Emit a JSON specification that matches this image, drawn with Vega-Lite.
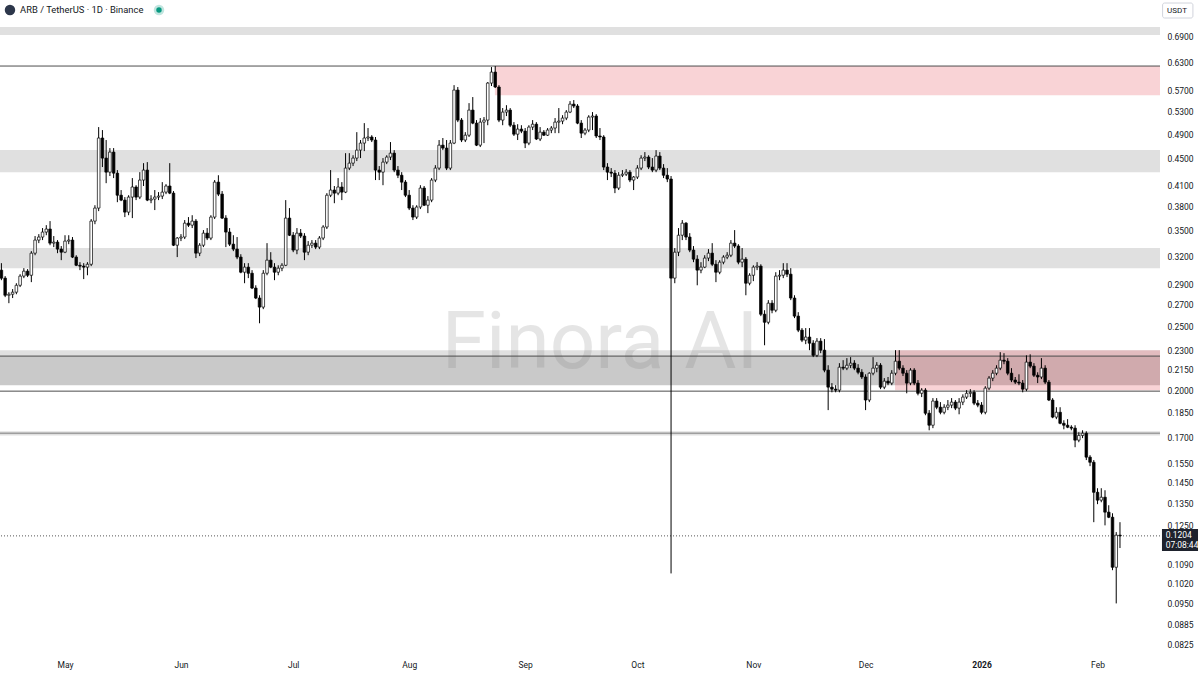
{
"$schema":"https://vega.github.io/schema/vega-lite/v6.json",
"width":1160,"height":655,
"autosize":{"type":"none"},
"padding":{"left":0,"top":0,"right":40,"bottom":20},
"background":"#ffffff",
"config":{"view":{"stroke":null},"font":"Roboto"},
"datasets":{
"candles":[
{"d":"2025-04-14","o":0.3046,"h":0.3121,"l":0.2941,"c":0.2962},
{"d":"2025-04-15","o":0.2962,"h":0.2983,"l":0.2772,"c":0.2790},
{"d":"2025-04-16","o":0.2790,"h":0.2820,"l":0.2714,"c":0.2800},
{"d":"2025-04-17","o":0.2800,"h":0.2851,"l":0.2763,"c":0.2820},
{"d":"2025-04-18","o":0.2820,"h":0.2910,"l":0.2800,"c":0.2889},
{"d":"2025-04-19","o":0.2889,"h":0.3003,"l":0.2871,"c":0.2983},
{"d":"2025-04-20","o":0.2983,"h":0.3067,"l":0.2962,"c":0.3035},
{"d":"2025-04-21","o":0.3035,"h":0.3057,"l":0.2973,"c":0.2992},
{"d":"2025-04-22","o":0.2992,"h":0.3255,"l":0.2921,"c":0.3232},
{"d":"2025-04-23","o":0.3232,"h":0.3431,"l":0.3209,"c":0.3383},
{"d":"2025-04-24","o":0.3383,"h":0.3454,"l":0.3347,"c":0.3419},
{"d":"2025-04-25","o":0.3419,"h":0.3528,"l":0.3383,"c":0.3479},
{"d":"2025-04-26","o":0.3479,"h":0.3564,"l":0.3441,"c":0.3516},
{"d":"2025-04-27","o":0.3516,"h":0.3615,"l":0.3323,"c":0.3347},
{"d":"2025-04-28","o":0.3347,"h":0.3431,"l":0.3301,"c":0.3359},
{"d":"2025-04-29","o":0.3359,"h":0.3383,"l":0.3232,"c":0.3278},
{"d":"2025-04-30","o":0.3278,"h":0.3313,"l":0.3154,"c":0.3243},
{"d":"2025-05-01","o":0.3243,"h":0.3441,"l":0.3232,"c":0.3371},
{"d":"2025-05-02","o":0.3371,"h":0.3441,"l":0.3335,"c":0.3383},
{"d":"2025-05-03","o":0.3383,"h":0.3419,"l":0.3177,"c":0.3188},
{"d":"2025-05-04","o":0.3188,"h":0.3209,"l":0.3089,"c":0.3098},
{"d":"2025-05-05","o":0.3098,"h":0.3132,"l":0.3046,"c":0.3089},
{"d":"2025-05-06","o":0.3089,"h":0.3121,"l":0.2952,"c":0.3078},
{"d":"2025-05-07","o":0.3078,"h":0.3132,"l":0.2992,"c":0.3109},
{"d":"2025-05-08","o":0.3109,"h":0.3641,"l":0.3089,"c":0.3615},
{"d":"2025-05-09","o":0.3615,"h":0.3821,"l":0.3576,"c":0.3783},
{"d":"2025-05-10","o":0.3783,"h":0.5020,"l":0.3743,"c":0.4832},
{"d":"2025-05-11","o":0.4832,"h":0.4968,"l":0.4366,"c":0.4505},
{"d":"2025-05-12","o":0.4505,"h":0.4798,"l":0.4127,"c":0.4289},
{"d":"2025-05-13","o":0.4289,"h":0.4665,"l":0.4231,"c":0.4600},
{"d":"2025-05-14","o":0.4600,"h":0.4665,"l":0.4201,"c":0.4274},
{"d":"2025-05-15","o":0.4274,"h":0.4320,"l":0.3862,"c":0.3957},
{"d":"2025-05-16","o":0.3957,"h":0.4029,"l":0.3876,"c":0.3890},
{"d":"2025-05-17","o":0.3890,"h":0.3931,"l":0.3666,"c":0.3730},
{"d":"2025-05-18","o":0.3730,"h":0.3957,"l":0.3690,"c":0.3931},
{"d":"2025-05-19","o":0.3931,"h":0.4201,"l":0.3653,"c":0.4072},
{"d":"2025-05-20","o":0.4072,"h":0.4098,"l":0.3890,"c":0.3931},
{"d":"2025-05-21","o":0.3931,"h":0.4289,"l":0.3904,"c":0.4172},
{"d":"2025-05-22","o":0.4172,"h":0.4426,"l":0.4086,"c":0.4320},
{"d":"2025-05-23","o":0.4320,"h":0.4442,"l":0.3876,"c":0.3890},
{"d":"2025-05-24","o":0.3890,"h":0.3957,"l":0.3848,"c":0.3904},
{"d":"2025-05-25","o":0.3904,"h":0.4029,"l":0.3757,"c":0.3931},
{"d":"2025-05-26","o":0.3931,"h":0.4000,"l":0.3890,"c":0.3945},
{"d":"2025-05-27","o":0.3945,"h":0.4142,"l":0.3904,"c":0.4000},
{"d":"2025-05-28","o":0.4000,"h":0.4113,"l":0.3972,"c":0.4086},
{"d":"2025-05-29","o":0.4086,"h":0.4426,"l":0.3972,"c":0.3986},
{"d":"2025-05-30","o":0.3986,"h":0.4015,"l":0.3313,"c":0.3323},
{"d":"2025-05-31","o":0.3323,"h":0.3419,"l":0.3188,"c":0.3407},
{"d":"2025-06-01","o":0.3407,"h":0.3454,"l":0.3371,"c":0.3419},
{"d":"2025-06-02","o":0.3419,"h":0.3628,"l":0.3395,"c":0.3589},
{"d":"2025-06-03","o":0.3589,"h":0.3666,"l":0.3541,"c":0.3564},
{"d":"2025-06-04","o":0.3564,"h":0.3690,"l":0.3528,"c":0.3615},
{"d":"2025-06-05","o":0.3615,"h":0.3641,"l":0.3177,"c":0.3232},
{"d":"2025-06-06","o":0.3232,"h":0.3347,"l":0.3199,"c":0.3323},
{"d":"2025-06-07","o":0.3323,"h":0.3503,"l":0.3301,"c":0.3466},
{"d":"2025-06-08","o":0.3466,"h":0.3528,"l":0.3383,"c":0.3407},
{"d":"2025-06-09","o":0.3407,"h":0.3690,"l":0.3383,"c":0.3666},
{"d":"2025-06-10","o":0.3666,"h":0.4172,"l":0.3641,"c":0.4142},
{"d":"2025-06-11","o":0.4142,"h":0.4243,"l":0.3945,"c":0.3972},
{"d":"2025-06-12","o":0.3972,"h":0.4015,"l":0.3641,"c":0.3653},
{"d":"2025-06-13","o":0.3653,"h":0.3690,"l":0.3301,"c":0.3479},
{"d":"2025-06-14","o":0.3479,"h":0.3528,"l":0.3313,"c":0.3335},
{"d":"2025-06-15","o":0.3335,"h":0.3441,"l":0.3255,"c":0.3278},
{"d":"2025-06-16","o":0.3278,"h":0.3419,"l":0.3165,"c":0.3188},
{"d":"2025-06-17","o":0.3188,"h":0.3220,"l":0.3013,"c":0.3024},
{"d":"2025-06-18","o":0.3024,"h":0.3121,"l":0.2910,"c":0.3078},
{"d":"2025-06-19","o":0.3078,"h":0.3121,"l":0.2962,"c":0.3013},
{"d":"2025-06-20","o":0.3013,"h":0.3046,"l":0.2851,"c":0.2861},
{"d":"2025-06-21","o":0.2861,"h":0.2889,"l":0.2753,"c":0.2763},
{"d":"2025-06-22","o":0.2763,"h":0.2790,"l":0.2530,"c":0.2677},
{"d":"2025-06-23","o":0.2677,"h":0.3046,"l":0.2658,"c":0.3013},
{"d":"2025-06-24","o":0.3013,"h":0.3347,"l":0.2992,"c":0.3154},
{"d":"2025-06-25","o":0.3154,"h":0.3243,"l":0.3067,"c":0.3078},
{"d":"2025-06-26","o":0.3078,"h":0.3121,"l":0.2941,"c":0.3024},
{"d":"2025-06-27","o":0.3024,"h":0.3098,"l":0.2992,"c":0.3067},
{"d":"2025-06-28","o":0.3067,"h":0.3121,"l":0.3035,"c":0.3098},
{"d":"2025-06-29","o":0.3098,"h":0.3890,"l":0.3089,"c":0.3653},
{"d":"2025-06-30","o":0.3653,"h":0.3783,"l":0.3431,"c":0.3441},
{"d":"2025-07-01","o":0.3441,"h":0.3479,"l":0.3243,"c":0.3267},
{"d":"2025-07-02","o":0.3267,"h":0.3528,"l":0.3220,"c":0.3466},
{"d":"2025-07-03","o":0.3466,"h":0.3516,"l":0.3407,"c":0.3431},
{"d":"2025-07-04","o":0.3431,"h":0.3466,"l":0.3154,"c":0.3243},
{"d":"2025-07-05","o":0.3243,"h":0.3371,"l":0.3209,"c":0.3323},
{"d":"2025-07-06","o":0.3323,"h":0.3383,"l":0.3290,"c":0.3347},
{"d":"2025-07-07","o":0.3347,"h":0.3383,"l":0.3278,"c":0.3301},
{"d":"2025-07-08","o":0.3301,"h":0.3431,"l":0.3278,"c":0.3407},
{"d":"2025-07-09","o":0.3407,"h":0.3564,"l":0.3383,"c":0.3541},
{"d":"2025-07-10","o":0.3541,"h":0.3986,"l":0.3516,"c":0.3957},
{"d":"2025-07-11","o":0.3957,"h":0.4320,"l":0.3931,"c":0.4029},
{"d":"2025-07-12","o":0.4029,"h":0.4086,"l":0.3848,"c":0.3986},
{"d":"2025-07-13","o":0.3986,"h":0.4201,"l":0.3957,"c":0.4072},
{"d":"2025-07-14","o":0.4072,"h":0.4142,"l":0.3890,"c":0.4000},
{"d":"2025-07-15","o":0.4000,"h":0.4583,"l":0.3986,"c":0.4350},
{"d":"2025-07-16","o":0.4350,"h":0.4583,"l":0.4320,"c":0.4426},
{"d":"2025-07-17","o":0.4426,"h":0.4550,"l":0.4381,"c":0.4505},
{"d":"2025-07-18","o":0.4505,"h":0.4932,"l":0.4458,"c":0.4632},
{"d":"2025-07-19","o":0.4632,"h":0.4798,"l":0.4505,"c":0.4747},
{"d":"2025-07-20","o":0.4747,"h":0.5090,"l":0.4616,"c":0.4832},
{"d":"2025-07-21","o":0.4832,"h":0.5003,"l":0.4781,"c":0.4849},
{"d":"2025-07-22","o":0.4849,"h":0.4880,"l":0.4764,"c":0.4798},
{"d":"2025-07-23","o":0.4798,"h":0.4849,"l":0.4172,"c":0.4320},
{"d":"2025-07-24","o":0.4320,"h":0.4381,"l":0.4172,"c":0.4289},
{"d":"2025-07-25","o":0.4289,"h":0.4505,"l":0.4098,"c":0.4442},
{"d":"2025-07-26","o":0.4442,"h":0.4550,"l":0.4411,"c":0.4521},
{"d":"2025-07-27","o":0.4521,"h":0.4764,"l":0.4474,"c":0.4583},
{"d":"2025-07-28","o":0.4583,"h":0.4632,"l":0.4289,"c":0.4320},
{"d":"2025-07-29","o":0.4320,"h":0.4381,"l":0.4201,"c":0.4243},
{"d":"2025-07-30","o":0.4243,"h":0.4289,"l":0.4029,"c":0.4142},
{"d":"2025-07-31","o":0.4142,"h":0.4172,"l":0.3931,"c":0.3957},
{"d":"2025-08-01","o":0.3957,"h":0.4029,"l":0.3757,"c":0.3783},
{"d":"2025-08-02","o":0.3783,"h":0.3821,"l":0.3628,"c":0.3666},
{"d":"2025-08-03","o":0.3666,"h":0.3821,"l":0.3641,"c":0.3797},
{"d":"2025-08-04","o":0.3797,"h":0.4098,"l":0.3770,"c":0.4057},
{"d":"2025-08-05","o":0.4057,"h":0.4086,"l":0.3810,"c":0.3821},
{"d":"2025-08-06","o":0.3821,"h":0.3945,"l":0.3717,"c":0.3890},
{"d":"2025-08-07","o":0.3890,"h":0.4201,"l":0.3862,"c":0.4172},
{"d":"2025-08-08","o":0.4172,"h":0.4395,"l":0.4142,"c":0.4350},
{"d":"2025-08-09","o":0.4350,"h":0.4798,"l":0.4320,"c":0.4713},
{"d":"2025-08-10","o":0.4713,"h":0.4832,"l":0.4632,"c":0.4665},
{"d":"2025-08-11","o":0.4665,"h":0.4798,"l":0.4320,"c":0.4350},
{"d":"2025-08-12","o":0.4350,"h":0.4798,"l":0.4320,"c":0.4747},
{"d":"2025-08-13","o":0.4747,"h":0.5812,"l":0.4730,"c":0.5713},
{"d":"2025-08-14","o":0.5713,"h":0.5774,"l":0.5108,"c":0.5144},
{"d":"2025-08-15","o":0.5144,"h":0.5181,"l":0.4764,"c":0.4798},
{"d":"2025-08-16","o":0.4798,"h":0.4932,"l":0.4764,"c":0.4880},
{"d":"2025-08-17","o":0.4880,"h":0.5458,"l":0.4849,"c":0.5327},
{"d":"2025-08-18","o":0.5327,"h":0.5575,"l":0.5071,"c":0.5090},
{"d":"2025-08-19","o":0.5090,"h":0.5144,"l":0.4698,"c":0.4713},
{"d":"2025-08-20","o":0.4713,"h":0.5181,"l":0.4682,"c":0.5108},
{"d":"2025-08-21","o":0.5108,"h":0.5199,"l":0.4747,"c":0.5144},
{"d":"2025-08-22","o":0.5144,"h":0.5875,"l":0.5053,"c":0.5854},
{"d":"2025-08-23","o":0.5854,"h":0.6191,"l":0.5794,"c":0.6083},
{"d":"2025-08-24","o":0.6083,"h":0.6213,"l":0.5754,"c":0.5774},
{"d":"2025-08-25","o":0.5774,"h":0.5812,"l":0.5108,"c":0.5144},
{"d":"2025-08-26","o":0.5144,"h":0.5365,"l":0.5053,"c":0.5290},
{"d":"2025-08-27","o":0.5290,"h":0.5419,"l":0.5217,"c":0.5327},
{"d":"2025-08-28","o":0.5327,"h":0.5365,"l":0.5020,"c":0.5053},
{"d":"2025-08-29","o":0.5053,"h":0.5108,"l":0.4866,"c":0.4897},
{"d":"2025-08-30","o":0.4897,"h":0.5071,"l":0.4798,"c":0.4985},
{"d":"2025-08-31","o":0.4985,"h":0.5053,"l":0.4915,"c":0.4950},
{"d":"2025-09-01","o":0.4950,"h":0.5003,"l":0.4665,"c":0.4747},
{"d":"2025-09-02","o":0.4747,"h":0.5053,"l":0.4713,"c":0.5020},
{"d":"2025-09-03","o":0.5020,"h":0.5144,"l":0.4968,"c":0.5071},
{"d":"2025-09-04","o":0.5071,"h":0.5108,"l":0.4798,"c":0.4815},
{"d":"2025-09-05","o":0.4815,"h":0.5020,"l":0.4781,"c":0.4932},
{"d":"2025-09-06","o":0.4932,"h":0.4968,"l":0.4866,"c":0.4880},
{"d":"2025-09-07","o":0.4880,"h":0.5003,"l":0.4866,"c":0.4968},
{"d":"2025-09-08","o":0.4968,"h":0.5038,"l":0.4915,"c":0.5003},
{"d":"2025-09-09","o":0.5003,"h":0.5181,"l":0.4915,"c":0.5108},
{"d":"2025-09-10","o":0.5108,"h":0.5365,"l":0.4915,"c":0.5126},
{"d":"2025-09-11","o":0.5126,"h":0.5233,"l":0.5071,"c":0.5181},
{"d":"2025-09-12","o":0.5181,"h":0.5327,"l":0.5144,"c":0.5290},
{"d":"2025-09-13","o":0.5290,"h":0.5497,"l":0.5271,"c":0.5439},
{"d":"2025-09-14","o":0.5439,"h":0.5517,"l":0.5365,"c":0.5403},
{"d":"2025-09-15","o":0.5403,"h":0.5439,"l":0.5071,"c":0.5090},
{"d":"2025-09-16","o":0.5090,"h":0.5144,"l":0.4832,"c":0.4915},
{"d":"2025-09-17","o":0.4915,"h":0.5003,"l":0.4880,"c":0.4968},
{"d":"2025-09-18","o":0.4968,"h":0.5233,"l":0.4932,"c":0.5199},
{"d":"2025-09-19","o":0.5199,"h":0.5290,"l":0.4968,"c":0.5217},
{"d":"2025-09-20","o":0.5217,"h":0.5252,"l":0.4832,"c":0.4866},
{"d":"2025-09-21","o":0.4866,"h":0.5003,"l":0.4798,"c":0.4849},
{"d":"2025-09-22","o":0.4849,"h":0.4880,"l":0.4320,"c":0.4366},
{"d":"2025-09-23","o":0.4366,"h":0.4426,"l":0.4172,"c":0.4289},
{"d":"2025-09-24","o":0.4289,"h":0.4350,"l":0.4216,"c":0.4274},
{"d":"2025-09-25","o":0.4274,"h":0.4320,"l":0.3986,"c":0.4057},
{"d":"2025-09-26","o":0.4057,"h":0.4289,"l":0.4029,"c":0.4243},
{"d":"2025-09-27","o":0.4243,"h":0.4320,"l":0.4216,"c":0.4259},
{"d":"2025-09-28","o":0.4259,"h":0.4335,"l":0.4231,"c":0.4289},
{"d":"2025-09-29","o":0.4289,"h":0.4320,"l":0.4142,"c":0.4172},
{"d":"2025-09-30","o":0.4172,"h":0.4231,"l":0.4029,"c":0.4216},
{"d":"2025-10-01","o":0.4216,"h":0.4395,"l":0.4187,"c":0.4350},
{"d":"2025-10-02","o":0.4350,"h":0.4550,"l":0.4320,"c":0.4505},
{"d":"2025-10-03","o":0.4505,"h":0.4600,"l":0.4458,"c":0.4521},
{"d":"2025-10-04","o":0.4521,"h":0.4550,"l":0.4335,"c":0.4366},
{"d":"2025-10-05","o":0.4366,"h":0.4505,"l":0.4289,"c":0.4320},
{"d":"2025-10-06","o":0.4320,"h":0.4632,"l":0.4289,"c":0.4537},
{"d":"2025-10-07","o":0.4537,"h":0.4600,"l":0.4320,"c":0.4350},
{"d":"2025-10-08","o":0.4350,"h":0.4411,"l":0.4201,"c":0.4243},
{"d":"2025-10-09","o":0.4243,"h":0.4350,"l":0.4142,"c":0.4187},
{"d":"2025-10-10","o":0.4187,"h":0.4231,"l":0.1056,"c":0.2962},
{"d":"2025-10-11","o":0.2962,"h":0.3290,"l":0.2910,"c":0.3243},
{"d":"2025-10-12","o":0.3243,"h":0.3528,"l":0.3199,"c":0.3441},
{"d":"2025-10-13","o":0.3441,"h":0.3628,"l":0.3383,"c":0.3589},
{"d":"2025-10-14","o":0.3589,"h":0.3602,"l":0.3383,"c":0.3419},
{"d":"2025-10-15","o":0.3419,"h":0.3466,"l":0.3243,"c":0.3267},
{"d":"2025-10-16","o":0.3267,"h":0.3313,"l":0.3132,"c":0.3165},
{"d":"2025-10-17","o":0.3165,"h":0.3209,"l":0.2889,"c":0.3046},
{"d":"2025-10-18","o":0.3046,"h":0.3132,"l":0.3013,"c":0.3078},
{"d":"2025-10-19","o":0.3078,"h":0.3209,"l":0.3067,"c":0.3177},
{"d":"2025-10-20","o":0.3177,"h":0.3278,"l":0.3143,"c":0.3232},
{"d":"2025-10-21","o":0.3232,"h":0.3347,"l":0.3089,"c":0.3109},
{"d":"2025-10-22","o":0.3109,"h":0.3154,"l":0.2921,"c":0.3024},
{"d":"2025-10-23","o":0.3024,"h":0.3154,"l":0.3003,"c":0.3132},
{"d":"2025-10-24","o":0.3132,"h":0.3209,"l":0.3109,"c":0.3188},
{"d":"2025-10-25","o":0.3188,"h":0.3243,"l":0.3165,"c":0.3209},
{"d":"2025-10-26","o":0.3209,"h":0.3383,"l":0.3188,"c":0.3347},
{"d":"2025-10-27","o":0.3347,"h":0.3503,"l":0.3290,"c":0.3313},
{"d":"2025-10-28","o":0.3313,"h":0.3335,"l":0.3109,"c":0.3132},
{"d":"2025-10-29","o":0.3132,"h":0.3290,"l":0.3078,"c":0.3165},
{"d":"2025-10-30","o":0.3165,"h":0.3188,"l":0.2790,"c":0.2910},
{"d":"2025-10-31","o":0.2910,"h":0.3013,"l":0.2889,"c":0.2992},
{"d":"2025-11-01","o":0.2992,"h":0.3098,"l":0.2931,"c":0.3078},
{"d":"2025-11-02","o":0.3078,"h":0.3132,"l":0.3046,"c":0.3089},
{"d":"2025-11-03","o":0.3089,"h":0.3109,"l":0.2594,"c":0.2611},
{"d":"2025-11-04","o":0.2611,"h":0.2648,"l":0.2343,"c":0.2539},
{"d":"2025-11-05","o":0.2539,"h":0.2743,"l":0.2521,"c":0.2714},
{"d":"2025-11-06","o":0.2714,"h":0.2743,"l":0.2620,"c":0.2648},
{"d":"2025-11-07","o":0.2648,"h":0.3024,"l":0.2630,"c":0.2983},
{"d":"2025-11-08","o":0.2983,"h":0.3046,"l":0.2941,"c":0.2992},
{"d":"2025-11-09","o":0.2992,"h":0.3121,"l":0.2962,"c":0.3046},
{"d":"2025-11-10","o":0.3046,"h":0.3121,"l":0.2973,"c":0.3003},
{"d":"2025-11-11","o":0.3003,"h":0.3067,"l":0.2743,"c":0.2763},
{"d":"2025-11-12","o":0.2763,"h":0.2790,"l":0.2576,"c":0.2594},
{"d":"2025-11-13","o":0.2594,"h":0.2630,"l":0.2453,"c":0.2470},
{"d":"2025-11-14","o":0.2470,"h":0.2488,"l":0.2369,"c":0.2385},
{"d":"2025-11-15","o":0.2385,"h":0.2488,"l":0.2352,"c":0.2411},
{"d":"2025-11-16","o":0.2411,"h":0.2488,"l":0.2303,"c":0.2360},
{"d":"2025-11-17","o":0.2360,"h":0.2385,"l":0.2248,"c":0.2262},
{"d":"2025-11-18","o":0.2262,"h":0.2402,"l":0.2248,"c":0.2377},
{"d":"2025-11-19","o":0.2377,"h":0.2402,"l":0.2279,"c":0.2303},
{"d":"2025-11-20","o":0.2303,"h":0.2394,"l":0.2132,"c":0.2148},
{"d":"2025-11-21","o":0.2148,"h":0.2185,"l":0.1868,"c":0.2024},
{"d":"2025-11-22","o":0.2024,"h":0.2053,"l":0.1988,"c":0.2010},
{"d":"2025-11-23","o":0.2010,"h":0.2038,"l":0.1988,"c":0.2003},
{"d":"2025-11-24","o":0.2003,"h":0.2201,"l":0.1988,"c":0.2170},
{"d":"2025-11-25","o":0.2170,"h":0.2224,"l":0.2148,"c":0.2163},
{"d":"2025-11-26","o":0.2163,"h":0.2240,"l":0.2148,"c":0.2185},
{"d":"2025-11-27","o":0.2185,"h":0.2248,"l":0.2163,"c":0.2201},
{"d":"2025-11-28","o":0.2201,"h":0.2224,"l":0.2148,"c":0.2163},
{"d":"2025-11-29","o":0.2163,"h":0.2193,"l":0.2117,"c":0.2132},
{"d":"2025-11-30","o":0.2132,"h":0.2155,"l":0.2082,"c":0.2097},
{"d":"2025-12-01","o":0.2097,"h":0.2117,"l":0.1868,"c":0.1935},
{"d":"2025-12-02","o":0.1935,"h":0.2132,"l":0.1921,"c":0.2125},
{"d":"2025-12-03","o":0.2125,"h":0.2248,"l":0.2110,"c":0.2163},
{"d":"2025-12-04","o":0.2163,"h":0.2209,"l":0.2132,"c":0.2185},
{"d":"2025-12-05","o":0.2185,"h":0.2201,"l":0.2010,"c":0.2024},
{"d":"2025-12-06","o":0.2024,"h":0.2089,"l":0.2010,"c":0.2067},
{"d":"2025-12-07","o":0.2067,"h":0.2097,"l":0.2038,"c":0.2053},
{"d":"2025-12-08","o":0.2053,"h":0.2148,"l":0.2038,"c":0.2125},
{"d":"2025-12-09","o":0.2125,"h":0.2303,"l":0.2110,"c":0.2216},
{"d":"2025-12-10","o":0.2216,"h":0.2303,"l":0.2148,"c":0.2163},
{"d":"2025-12-11","o":0.2163,"h":0.2185,"l":0.2104,"c":0.2125},
{"d":"2025-12-12","o":0.2125,"h":0.2148,"l":0.1981,"c":0.2053},
{"d":"2025-12-13","o":0.2053,"h":0.2163,"l":0.2038,"c":0.2148},
{"d":"2025-12-14","o":0.2148,"h":0.2163,"l":0.2038,"c":0.2053},
{"d":"2025-12-15","o":0.2053,"h":0.2075,"l":0.1967,"c":0.1981},
{"d":"2025-12-16","o":0.1981,"h":0.2017,"l":0.1955,"c":0.2003},
{"d":"2025-12-17","o":0.2003,"h":0.2017,"l":0.1835,"c":0.1848},
{"d":"2025-12-18","o":0.1848,"h":0.1868,"l":0.1741,"c":0.1772},
{"d":"2025-12-19","o":0.1772,"h":0.1948,"l":0.1754,"c":0.1928},
{"d":"2025-12-20","o":0.1928,"h":0.1948,"l":0.1874,"c":0.1887},
{"d":"2025-12-21","o":0.1887,"h":0.1921,"l":0.1841,"c":0.1854},
{"d":"2025-12-22","o":0.1854,"h":0.1907,"l":0.1841,"c":0.1887},
{"d":"2025-12-23","o":0.1887,"h":0.1935,"l":0.1868,"c":0.1901},
{"d":"2025-12-24","o":0.1901,"h":0.1948,"l":0.1881,"c":0.1921},
{"d":"2025-12-25","o":0.1921,"h":0.1935,"l":0.1868,"c":0.1881},
{"d":"2025-12-26","o":0.1881,"h":0.1948,"l":0.1841,"c":0.1921},
{"d":"2025-12-27","o":0.1921,"h":0.1974,"l":0.1901,"c":0.1955},
{"d":"2025-12-28","o":0.1955,"h":0.2003,"l":0.1942,"c":0.1981},
{"d":"2025-12-29","o":0.1981,"h":0.2010,"l":0.1955,"c":0.1988},
{"d":"2025-12-30","o":0.1988,"h":0.2003,"l":0.1901,"c":0.1914},
{"d":"2025-12-31","o":0.1914,"h":0.1935,"l":0.1887,"c":0.1901},
{"d":"2026-01-01","o":0.1901,"h":0.1921,"l":0.1841,"c":0.1854},
{"d":"2026-01-02","o":0.1854,"h":0.2031,"l":0.1841,"c":0.2017},
{"d":"2026-01-03","o":0.2017,"h":0.2104,"l":0.2003,"c":0.2089},
{"d":"2026-01-04","o":0.2089,"h":0.2148,"l":0.2067,"c":0.2125},
{"d":"2026-01-05","o":0.2125,"h":0.2185,"l":0.2110,"c":0.2163},
{"d":"2026-01-06","o":0.2163,"h":0.2287,"l":0.2148,"c":0.2224},
{"d":"2026-01-07","o":0.2224,"h":0.2279,"l":0.2193,"c":0.2216},
{"d":"2026-01-08","o":0.2216,"h":0.2240,"l":0.2110,"c":0.2125},
{"d":"2026-01-09","o":0.2125,"h":0.2163,"l":0.2060,"c":0.2075},
{"d":"2026-01-10","o":0.2075,"h":0.2097,"l":0.2046,"c":0.2060},
{"d":"2026-01-11","o":0.2060,"h":0.2117,"l":0.2038,"c":0.2053},
{"d":"2026-01-12","o":0.2053,"h":0.2075,"l":0.1988,"c":0.2010},
{"d":"2026-01-13","o":0.2010,"h":0.2262,"l":0.1996,"c":0.2209},
{"d":"2026-01-14","o":0.2209,"h":0.2270,"l":0.2163,"c":0.2178},
{"d":"2026-01-15","o":0.2178,"h":0.2201,"l":0.2097,"c":0.2110},
{"d":"2026-01-16","o":0.2110,"h":0.2132,"l":0.2053,"c":0.2097},
{"d":"2026-01-17","o":0.2097,"h":0.2240,"l":0.2082,"c":0.2163},
{"d":"2026-01-18","o":0.2163,"h":0.2185,"l":0.2046,"c":0.2060},
{"d":"2026-01-19","o":0.2060,"h":0.2075,"l":0.1928,"c":0.1935},
{"d":"2026-01-20","o":0.1935,"h":0.1948,"l":0.1816,"c":0.1823},
{"d":"2026-01-21","o":0.1823,"h":0.1887,"l":0.1810,"c":0.1854},
{"d":"2026-01-22","o":0.1854,"h":0.1887,"l":0.1778,"c":0.1784},
{"d":"2026-01-23","o":0.1784,"h":0.1803,"l":0.1747,"c":0.1772},
{"d":"2026-01-24","o":0.1772,"h":0.1810,"l":0.1754,"c":0.1760},
{"d":"2026-01-25","o":0.1760,"h":0.1772,"l":0.1741,"c":0.1754},
{"d":"2026-01-26","o":0.1754,"h":0.1772,"l":0.1641,"c":0.1682},
{"d":"2026-01-27","o":0.1682,"h":0.1729,"l":0.1670,"c":0.1710},
{"d":"2026-01-28","o":0.1710,"h":0.1741,"l":0.1694,"c":0.1723},
{"d":"2026-01-29","o":0.1723,"h":0.1735,"l":0.1569,"c":0.1585},
{"d":"2026-01-30","o":0.1585,"h":0.1596,"l":0.1536,"c":0.1557},
{"d":"2026-01-31","o":0.1557,"h":0.1569,"l":0.1263,"c":0.1402},
{"d":"2026-02-01","o":0.1402,"h":0.1422,"l":0.1345,"c":0.1364},
{"d":"2026-02-02","o":0.1364,"h":0.1422,"l":0.1354,"c":0.1378},
{"d":"2026-02-03","o":0.1378,"h":0.1412,"l":0.1249,"c":0.1308},
{"d":"2026-02-04","o":0.1308,"h":0.1340,"l":0.1281,"c":0.1285},
{"d":"2026-02-05","o":0.1285,"h":0.1303,"l":0.1068,"c":0.1079},
{"d":"2026-02-06","o":0.1079,"h":0.1220,"l":0.0951,"c":0.1207},
{"d":"2026-02-07","o":0.1207,"h":0.1263,"l":0.1154,"c":0.1204}
],
"bandsLight":[
{"top":0.712,"bottom":0.6925},
{"top":0.4632,"bottom":0.4289},
{"top":0.3290,"bottom":0.3067},
{"top":0.2303,"bottom":0.2256},
{"top":0.1735,"bottom":0.1710}
],
"bandsDark":[
{"top":0.2256,"bottom":0.2038}
],
"zones":[
{"start":"2025-08-23T22:00:00Z","end":"2026-02-17T16:48:00Z","top":0.6213,"bottom":0.5612},
{"start":"2025-12-08T21:00:00Z","end":"2026-02-17T16:48:00Z","top":0.2303,"bottom":0.2003}
]
},
"layer":[
{"data":{"name":"bandsLight"},"mark":{"type":"rect","fill":"#e0e0e0"},
 "encoding":{
  "y":{"field":"top","type":"quantitative","title":null,"scale":{"type":"log","domain":[0.07942,0.7825],"nice":false,"padding":0}},
  "y2":{"field":"bottom"}}},
{"data":{"name":"bandsDark"},"mark":{"type":"rect","fill":"#c9c9c9"},
 "encoding":{
  "y":{"field":"top","type":"quantitative","title":null,"scale":{"type":"log","domain":[0.07942,0.7825],"nice":false,"padding":0}},
  "y2":{"field":"bottom"}}},
{"data":{"name":"zones"},"mark":{"type":"rect","fill":"#e8505b","opacity":0.25},
 "encoding":{
  "x":{"field":"start","type":"temporal","title":null,"scale":{"type":"utc","nice":false,"padding":0,"domain":[{"year":2025,"month":4,"date":13,"hours":15,"utc":true},{"year":2026,"month":2,"date":17,"hours":16,"minutes":48,"utc":true}]}},
  "x2":{"field":"end"},
  "y":{"field":"top","type":"quantitative","title":null,"scale":{"type":"log","domain":[0.07942,0.7825],"nice":false,"padding":0}},
  "y2":{"field":"bottom"}}},
{"data":{"values":[{"d":"2025-09-21T00:00:00Z","p":0.2164,"t":"Finora AI"}]},
 "mark":{"type":"text","font":"Roboto","fontSize":80,"align":"center","baseline":"alphabetic","color":"#787878","opacity":0.19},
 "encoding":{
  "x":{"field":"d","type":"temporal","title":null,"scale":{"type":"utc","nice":false,"padding":0,"domain":[{"year":2025,"month":4,"date":13,"hours":15,"utc":true},{"year":2026,"month":2,"date":17,"hours":16,"minutes":48,"utc":true}]}},
  "y":{"field":"p","type":"quantitative","title":null,"scale":{"type":"log","domain":[0.07942,0.7825],"nice":false,"padding":0}},
  "text":{"field":"t"}}},
{"data":{"values":[{"price":0.6213},{"price":0.2256},{"price":0.1996}]},
 "mark":{"type":"rule","color":"#4d4d4d","strokeWidth":1},
 "encoding":{"y":{"field":"price","type":"quantitative","title":null,"scale":{"type":"log","domain":[0.07942,0.7825],"nice":false,"padding":0}}}},
{"data":{"values":[{"price":0.1723}]},
 "mark":{"type":"rule","color":"#9e9e9e","strokeWidth":1.5},
 "encoding":{"y":{"field":"price","type":"quantitative","title":null,"scale":{"type":"log","domain":[0.07942,0.7825],"nice":false,"padding":0}}}},
{"data":{"values":[{"price":0.1204}]},
 "mark":{"type":"rule","color":"#555555","strokeWidth":1,"strokeDash":[1,2]},
 "encoding":{"y":{"field":"price","type":"quantitative","title":null,"scale":{"type":"log","domain":[0.07942,0.7825],"nice":false,"padding":0}}}},
{"data":{"name":"candles"},
 "mark":{"type":"rule","color":"#000000","strokeWidth":1},
 "encoding":{
  "x":{"field":"d","type":"temporal","title":null,"scale":{"type":"utc","nice":false,"padding":0,"domain":[{"year":2025,"month":4,"date":13,"hours":15,"utc":true},{"year":2026,"month":2,"date":17,"hours":16,"minutes":48,"utc":true}]},
   "axis":{"orient":"bottom","title":null,"grid":false,"ticks":false,"domain":false,"labelPadding":5,"labelFlush":false,"labelOverlap":false,"labelFont":"Roboto","labelFontSize":8.5,"labelColor":"#131722",
    "values":[{"year":2025,"month":5,"date":1,"utc":true},{"year":2025,"month":6,"date":1,"utc":true},{"year":2025,"month":7,"date":1,"utc":true},{"year":2025,"month":8,"date":1,"utc":true},{"year":2025,"month":9,"date":1,"utc":true},{"year":2025,"month":10,"date":1,"utc":true},{"year":2025,"month":11,"date":1,"utc":true},{"year":2025,"month":12,"date":1,"utc":true},{"year":2026,"month":1,"date":1,"utc":true},{"year":2026,"month":2,"date":1,"utc":true}],
    "labelExpr":"utcmonth(datum.value) === 0 ? utcFormat(datum.value, '%Y') : utcFormat(datum.value, '%b')",
    "labelFontWeight":{"condition":{"test":"utcmonth(datum.value) === 0","value":"bold"},"value":"normal"}}},
  "y":{"field":"l","type":"quantitative","title":null,"scale":{"type":"log","domain":[0.07942,0.7825],"nice":false,"padding":0},
   "axis":{"orient":"right","title":null,"grid":false,"ticks":false,"domain":false,"labelPadding":7,"labelOverlap":false,"labelFont":"Roboto","labelFontSize":8.5,"labelColor":"#131722","format":".4f",
    "values":[0.0825,0.0885,0.095,0.102,0.109,0.125,0.135,0.145,0.155,0.17,0.185,0.2,0.215,0.23,0.25,0.27,0.29,0.32,0.35,0.38,0.41,0.45,0.49,0.53,0.57,0.63,0.69]}},
  "y2":{"field":"h"}}},
{"data":{"name":"candles"},
 "mark":{"type":"bar","width":2.6,"stroke":"#000000","strokeWidth":0.7},
 "encoding":{
  "x":{"field":"d","type":"temporal","title":null,"scale":{"type":"utc","nice":false,"padding":0,"domain":[{"year":2025,"month":4,"date":13,"hours":15,"utc":true},{"year":2026,"month":2,"date":17,"hours":16,"minutes":48,"utc":true}]}},
  "y":{"field":"o","type":"quantitative","title":null,"scale":{"type":"log","domain":[0.07942,0.7825],"nice":false,"padding":0}},
  "y2":{"field":"c"},
  "fill":{"condition":{"test":"datum.c >= datum.o","value":"#ffffff"},"value":"#000000"}}},
{"data":{"values":[{"x1":"2026-02-18T05:30:00Z","x2":"2026-02-27T20:40:00Z","top":0.1233,"bottom":0.1142}]},
 "mark":{"type":"rect","clip":false,"fill":"#1e222d"},
 "encoding":{
  "x":{"field":"x1","type":"temporal","title":null,"scale":{"type":"utc","nice":false,"padding":0,"domain":[{"year":2025,"month":4,"date":13,"hours":15,"utc":true},{"year":2026,"month":2,"date":17,"hours":16,"minutes":48,"utc":true}]}},
  "x2":{"field":"x2"},
  "y":{"field":"top","type":"quantitative","title":null,"scale":{"type":"log","domain":[0.07942,0.7825],"nice":false,"padding":0}},
  "y2":{"field":"bottom"}}},
{"data":{"values":[{"x1":"2026-02-18T09:30:00Z","x2":"2026-02-26T12:00:00Z","top":0.7743,"bottom":0.7348}]},
 "mark":{"type":"rect","clip":false,"fill":"#ffffff","stroke":"#d1d4dc","strokeWidth":1,"cornerRadius":2},
 "encoding":{
  "x":{"field":"x1","type":"temporal","title":null,"scale":{"type":"utc","nice":false,"padding":0,"domain":[{"year":2025,"month":4,"date":13,"hours":15,"utc":true},{"year":2026,"month":2,"date":17,"hours":16,"minutes":48,"utc":true}]}},
  "x2":{"field":"x2"},
  "y":{"field":"top","type":"quantitative","title":null,"scale":{"type":"log","domain":[0.07942,0.7825],"nice":false,"padding":0}},
  "y2":{"field":"bottom"}}},
{"data":{"values":[
  {"d":"2026-02-19T05:00:00Z","p":0.1207,"t":"0.1204"},
  {"d":"2026-02-19T05:00:00Z","p":0.1166,"t":"07:08:44"}]},
 "mark":{"type":"text","clip":false,"font":"Roboto","fontSize":8.5,"align":"left","baseline":"middle","color":"#ffffff"},
 "encoding":{
  "x":{"field":"d","type":"temporal","title":null,"scale":{"type":"utc","nice":false,"padding":0,"domain":[{"year":2025,"month":4,"date":13,"hours":15,"utc":true},{"year":2026,"month":2,"date":17,"hours":16,"minutes":48,"utc":true}]}},
  "y":{"field":"p","type":"quantitative","title":null,"scale":{"type":"log","domain":[0.07942,0.7825],"nice":false,"padding":0}},
  "text":{"field":"t"}}},
{"data":{"values":[
  {"d":"2026-02-19T14:00:00Z","p":0.7530,"t":"USDT","s":8},
  {"d":"2025-04-19T00:00:00Z","p":0.7556,"t":"ARB / TetherUS · 1D · Binance","s":9.4}]},
 "mark":{"type":"text","clip":false,"font":"Roboto","align":"left","baseline":"middle","color":"#131722"},
 "encoding":{
  "x":{"field":"d","type":"temporal","title":null,"scale":{"type":"utc","nice":false,"padding":0,"domain":[{"year":2025,"month":4,"date":13,"hours":15,"utc":true},{"year":2026,"month":2,"date":17,"hours":16,"minutes":48,"utc":true}]}},
  "y":{"field":"p","type":"quantitative","title":null,"scale":{"type":"log","domain":[0.07942,0.7825],"nice":false,"padding":0}},
  "text":{"field":"t"},
  "size":{"field":"s","type":"quantitative","scale":null}}},
{"data":{"values":[{"d":"2025-05-26T03:00:00Z","p":0.7556}]},
 "mark":{"type":"point","filled":true,"clip":false,"color":"#089981","opacity":0.25,"size":110},
 "encoding":{
  "x":{"field":"d","type":"temporal","title":null,"scale":{"type":"utc","nice":false,"padding":0,"domain":[{"year":2025,"month":4,"date":13,"hours":15,"utc":true},{"year":2026,"month":2,"date":17,"hours":16,"minutes":48,"utc":true}]}},
  "y":{"field":"p","type":"quantitative","title":null,"scale":{"type":"log","domain":[0.07942,0.7825],"nice":false,"padding":0}}}},
{"data":{"values":[{"d":"2025-05-26T03:00:00Z","p":0.7556}]},
 "mark":{"type":"point","filled":true,"clip":false,"color":"#089981","opacity":1,"size":30},
 "encoding":{
  "x":{"field":"d","type":"temporal","title":null,"scale":{"type":"utc","nice":false,"padding":0,"domain":[{"year":2025,"month":4,"date":13,"hours":15,"utc":true},{"year":2026,"month":2,"date":17,"hours":16,"minutes":48,"utc":true}]}},
  "y":{"field":"p","type":"quantitative","title":null,"scale":{"type":"log","domain":[0.07942,0.7825],"nice":false,"padding":0}}}},
{"data":{"values":[{"d":"2025-04-16T07:00:00Z","p":0.7556}]},
 "mark":{"type":"point","filled":true,"clip":false,"color":"#2d374b","opacity":1,"size":110},
 "encoding":{
  "x":{"field":"d","type":"temporal","title":null,"scale":{"type":"utc","nice":false,"padding":0,"domain":[{"year":2025,"month":4,"date":13,"hours":15,"utc":true},{"year":2026,"month":2,"date":17,"hours":16,"minutes":48,"utc":true}]}},
  "y":{"field":"p","type":"quantitative","title":null,"scale":{"type":"log","domain":[0.07942,0.7825],"nice":false,"padding":0}}}}
]
}
